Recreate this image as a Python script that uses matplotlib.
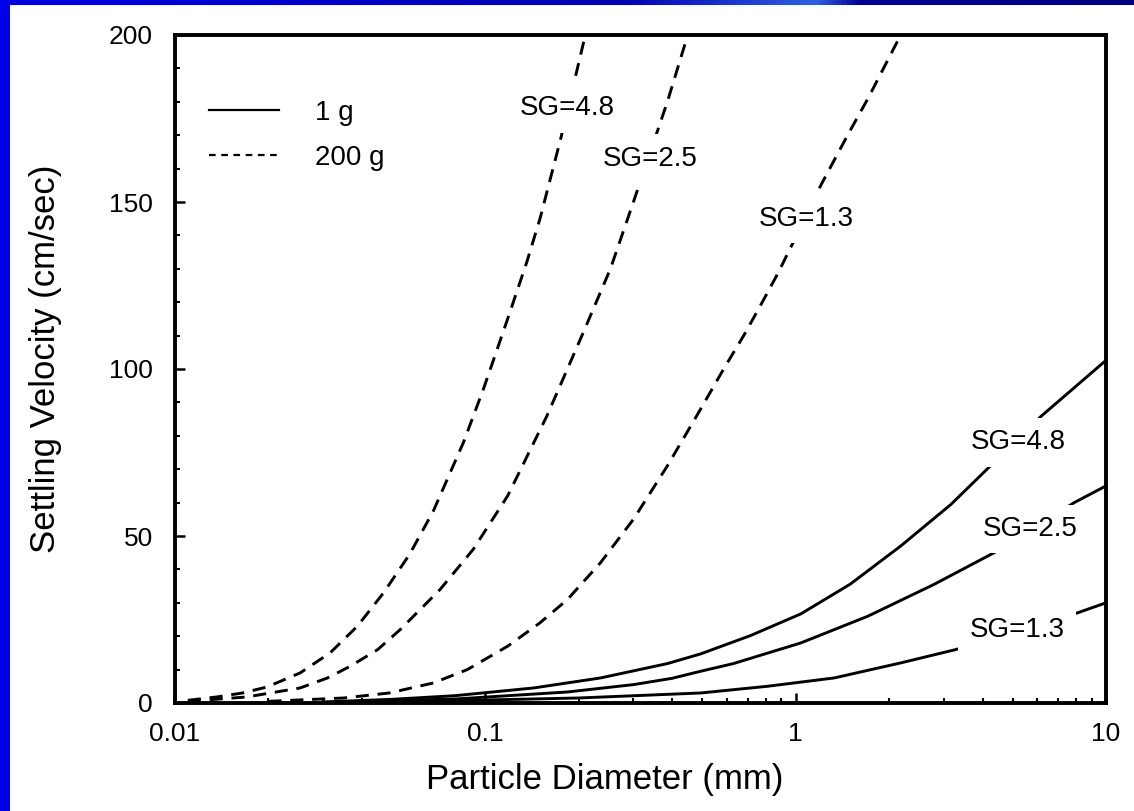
import numpy as np
import matplotlib
matplotlib.use("Agg")
import matplotlib.pyplot as plt
from matplotlib.lines import Line2D
from matplotlib.patches import Rectangle
from matplotlib.colors import LinearSegmentedColormap

plt.rcParams['font.family'] = ['Liberation Sans', 'DejaVu Sans']

# ---------------- data ----------------
# 200 g curves (dashed)
d_200_48 = [0.011, 0.0136, 0.0165, 0.0198, 0.0253, 0.0316, 0.0387, 0.047, 0.057,
            0.068, 0.085, 0.0986, 0.118, 0.136, 0.150, 0.175, 0.19, 0.21]
v_200_48 = [0.8, 1.8, 3.0, 4.8, 9, 15, 23, 33, 44.5, 57.5, 78, 94, 115, 132, 145,
            169, 183, 200]

d_200_25 = [0.011, 0.017, 0.0253, 0.031, 0.0367, 0.045, 0.0532, 0.0715, 0.0914,
            0.118, 0.158, 0.207, 0.253, 0.30, 0.386, 0.449]
v_200_25 = [0.5, 1.8, 4.5, 7.5, 11, 16, 22, 34, 46, 62, 86, 111, 130, 150, 180, 200]

d_200_13 = [0.02, 0.035, 0.049, 0.068, 0.0875, 0.118, 0.15, 0.184, 0.235, 0.30,
            0.386, 0.48, 0.586, 0.68, 0.77, 0.875, 0.977, 1.205, 1.47, 1.71, 2.18]
v_200_13 = [0.5, 1.5, 3, 6, 10, 17, 24, 31, 42, 55, 71, 86, 100, 110, 119, 128.5,
            137.5, 155, 170, 181, 200]

# 1 g curves (solid)
d_1_48 = [0.03, 0.05, 0.08, 0.143, 0.235, 0.386, 0.494, 0.716, 1.04, 1.5, 2.18,
          3.16, 4.2, 6.17, 10]
v_1_48 = [0.3, 1.1, 2.2, 4.5, 7.5, 11.8, 14.7, 20.2, 26.7, 35.6, 47, 59.4, 70.6,
          85.8, 102.6]

d_1_25 = [0.03, 0.08, 0.184, 0.30, 0.40, 0.494, 0.63, 1.04, 1.71, 2.79, 4.36, 6.0,
          7.9, 10]
v_1_25 = [0.2, 1.2, 3.3, 5.5, 7.4, 9.5, 11.8, 18, 26, 35.5, 45, 53, 60, 65]

d_1_13 = [0.05, 0.2, 0.494, 0.81, 1.33, 2.18, 3.28, 5.0, 8.1, 10]
v_1_13 = [0.3, 1.5, 3, 5, 7.5, 12, 16, 21, 27, 30]

x_ticks = [0.01, 0.1, 1, 10]
x_tick_labels = ['0.01', '0.1', '1', '10']
y_ticks = [0, 50, 100, 150, 200]
y_tick_labels = ['0', '50', '100', '150', '200']
legend_labels = ['1 g', '200 g']

# ---------------- figure ----------------
fig = plt.figure(figsize=(11.34, 8.11), dpi=100)
fig.patch.set_facecolor('white')

# slide frame: blue strip on the left and a gradient band on top
fig.patches.append(Rectangle((0, 0), 10 / 1134, 1, transform=fig.transFigure,
                             facecolor='#0000E6', edgecolor='none', zorder=0))
band = fig.add_axes([0, 1 - 5 / 811, 1, 5 / 811])
grad = np.linspace(0, 1, 512)[None, :]
cmap = LinearSegmentedColormap.from_list(
    'band', [(0.0, '#0000E0'), (0.55, '#0000B0'), (0.72, '#3060E0'),
             (0.76, '#000090'), (1.0, '#000080')])
band.imshow(grad, aspect='auto', cmap=cmap)
band.set_axis_off()

ax = fig.add_axes([175 / 1134, 1 - 703 / 811, 931 / 1134, 668 / 811])
ax.set_xscale('log')

dash = (0, (4.5, 3))
lw = 2.1
ax.plot(d_200_48, v_200_48, color='black', lw=lw, linestyle=dash)
ax.plot(d_200_25, v_200_25, color='black', lw=lw, linestyle=dash)
ax.plot(d_200_13, v_200_13, color='black', lw=lw, linestyle=dash)
ax.plot(d_1_48, v_1_48, color='black', lw=lw)
ax.plot(d_1_25, v_1_25, color='black', lw=lw)
ax.plot(d_1_13, v_1_13, color='black', lw=lw)

ax.set_xlim(0.01, 10)
ax.set_ylim(0, 200)
ax.set_xticks(x_ticks)
ax.set_xticklabels(x_tick_labels)
ax.set_yticks(y_ticks)
ax.set_yticklabels(y_tick_labels)
ax.yaxis.set_minor_locator(matplotlib.ticker.MultipleLocator(10))
ax.xaxis.set_minor_locator(matplotlib.ticker.LogLocator(base=10, subs=np.arange(2, 10)))
ax.xaxis.set_minor_formatter(matplotlib.ticker.NullFormatter())

ax.tick_params(which='both', direction='in', color='black')
ax.tick_params(which='major', length=7, width=1.8, labelsize=19)
ax.tick_params(which='minor', length=3.5, width=1.5)
ax.tick_params(axis='x', pad=14)
ax.tick_params(axis='y', pad=16)
for s in ax.spines.values():
    s.set_linewidth(2.8)

ax.set_xlabel('Particle Diameter (mm)', fontsize=25)
ax.xaxis.set_label_coords(0.462, -0.090)
ax.set_ylabel('Settling Velocity (cm/sec)', fontsize=25)
ax.yaxis.set_label_coords(-0.1215, 0.515)

lab_kw = dict(ha='center', va='center', fontsize=20, zorder=5,
              bbox=dict(facecolor='white', edgecolor='none', pad=8))
ax.text(0.183, 178, 'SG=4.8', **lab_kw)
ax.text(0.34, 163, 'SG=2.5', **lab_kw)
ax.text(1.08, 145, 'SG=1.3', **lab_kw)
ax.text(5.2, 78, 'SG=4.8', **lab_kw)
ax.text(5.69, 52, 'SG=2.5', **lab_kw)
ax.text(5.17, 22, 'SG=1.3', **lab_kw)

handles = [Line2D([], [], color='black', lw=1.6),
           Line2D([], [], color='black', lw=1.6, linestyle=(0, (3, 2.5)))]
ax.legend(handles, legend_labels, loc='upper left', bbox_to_anchor=(0.037, 0.903),
          frameon=False, fontsize=20, handlelength=2.5, handletextpad=1.3,
          labelspacing=0.68, borderaxespad=0, borderpad=0)

fig.savefig('out.png', dpi=100)
